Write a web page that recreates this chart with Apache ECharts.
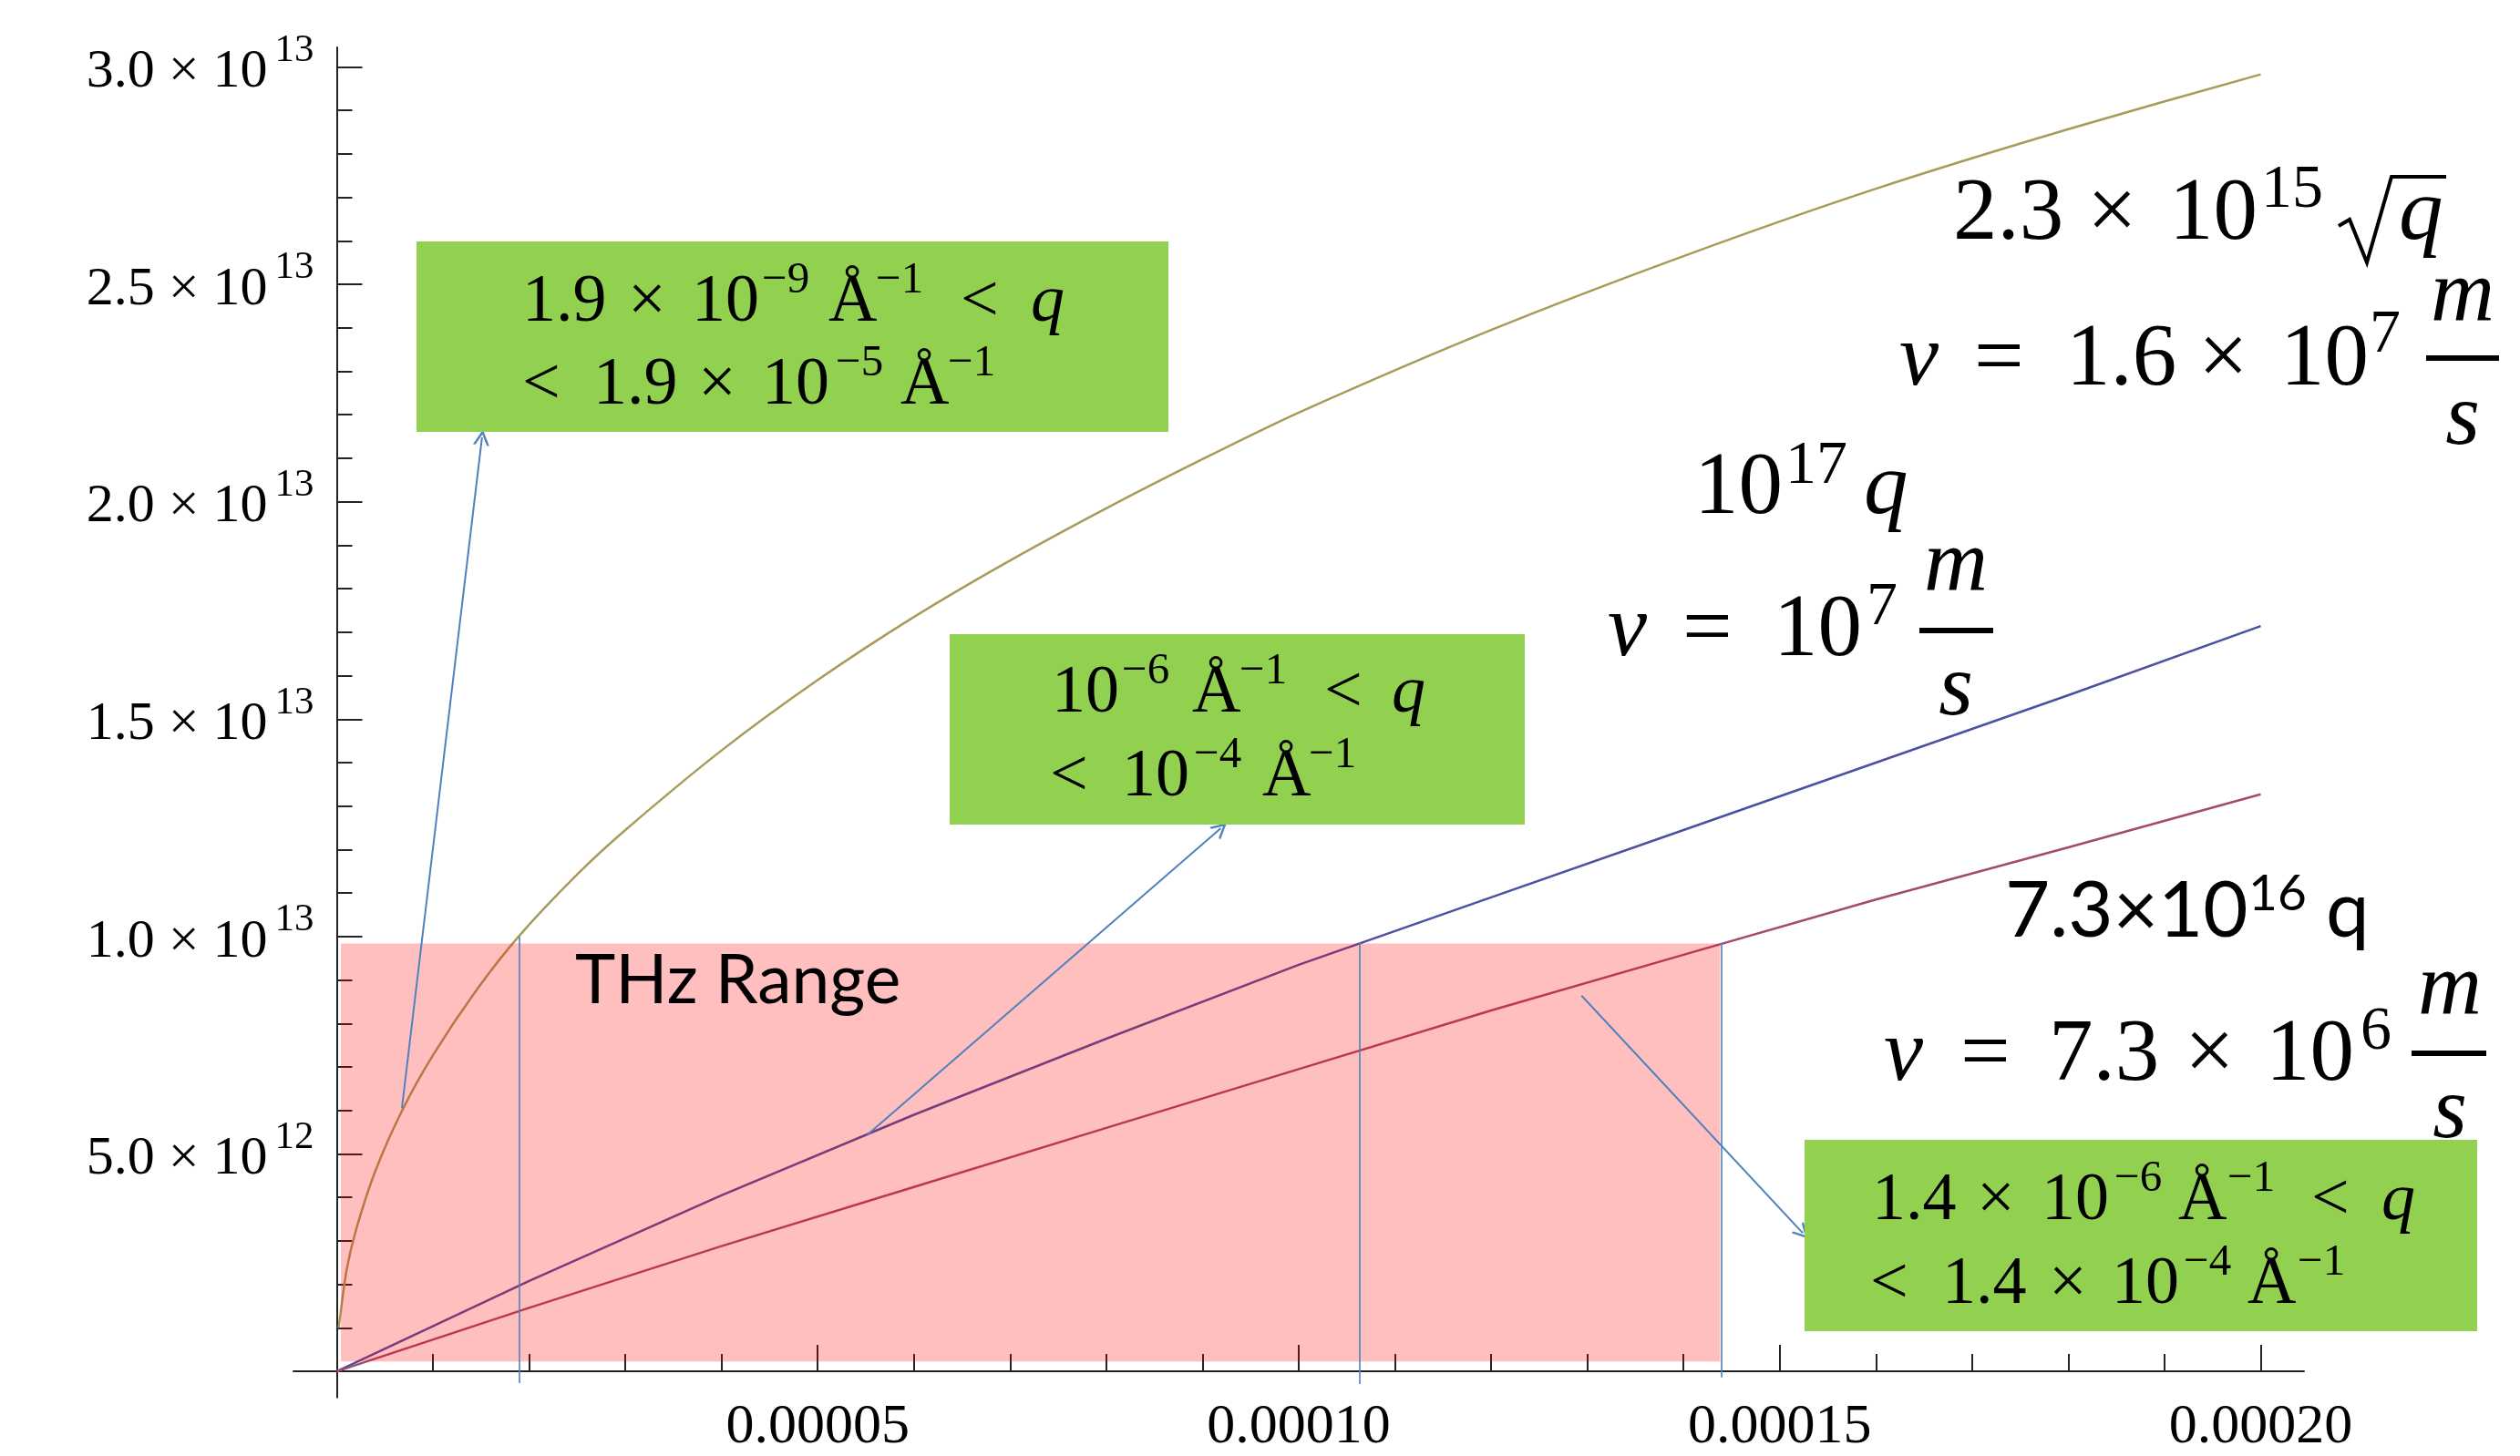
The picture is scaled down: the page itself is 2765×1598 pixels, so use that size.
<!DOCTYPE html>
<html>
<head>
<meta charset="utf-8">
<script src="https://cdn.jsdelivr.net/npm/echarts@6/dist/echarts.min.js"></script>
<style>
html,body{margin:0;padding:0;background:#ffffff;}
#chart{width:2765px;height:1598px;}
</style>
</head>
<body>
<div id="chart"></div>
<script>
// ---------------- data ----------------
const qGold = [0.0000002, 0.000001, 0.000002, 0.000004, 0.0000068, 0.00001, 0.0000145, 0.0000189, 0.000025, 0.00003, 0.00004, 0.00005, 0.00006, 0.00007, 0.00008, 0.00009, 0.0001, 0.00012, 0.00014, 0.00016, 0.00018, 0.0002];
const vGold = [1.0e12, 2.3e12, 3.25e12, 4.6e12, 6.0e12, 7.27e12, 8.76e12, 1.0e13, 1.143e13, 1.245e13, 1.428e13, 1.59e13, 1.735e13, 1.865e13, 1.985e13, 2.098e13, 2.205e13, 2.395e13, 2.565e13, 2.72e13, 2.857e13, 2.983e13];
const qLine = [0, 0.00002, 0.00004, 0.00006, 0.00008, 0.0001, 0.00012, 0.00014, 0.00016, 0.00018, 0.0002];
const vBlue = [0, 2.08e12, 4.05e12, 5.9e12, 7.65e12, 9.35e12, 1.09e13, 1.245e13, 1.40e13, 1.555e13, 1.714e13];
const vRed  = [0, 1.46e12, 2.88e12, 4.24e12, 5.6e12, 6.95e12, 8.3e12, 9.58e12, 1.085e13, 1.205e13, 1.327e13];

const xTickLabels = [0.00005, 0.0001, 0.00015, 0.0002];
const yTickLabels = [5e12, 1e13, 1.5e13, 2e13, 2.5e13, 3e13];

// THz range box (q from, q to, v from, v to)
const thzQ = [0.00000043, 0.0001438];
const thzV = [0.226e12, 9.84e12];
// vertical marker lines: q, top v, bottom v
const markerQ   = [0.00001899, 0.0001063, 0.0001439];
const markerTop = [1.0e13, 9.87e12, 9.84e12];
const markerBot = [-0.27e12, -0.29e12, -0.14e12];
// arrows: start [q,v] -> end [q,v]
const arrowFromQ = [0.00000677, 0.00005516, 0.0001294];
const arrowFromV = [6.05e12, 5.44e12, 8.64e12];
const arrowToQ   = [0.0000151, 0.0000919, 0.0001524];
const arrowToV   = [2.148e13, 1.249e13, 3.18e12];

// ---------------- axes ranges ----------------
const X_MIN = -0.0000045, X_MAX = 0.0002045;
const Y_MIN = -0.6e12, Y_MAX = 3.045e13;
const xMinor = [], yMinor = [];
for (let i = 1; i <= 20; i++) if (i % 5) xMinor.push(+(i * 0.00001).toFixed(6));
for (let i = 1; i <= 29; i++) if (i % 5) yMinor.push(i * 1e12);

const SERIF = 'Liberation Serif';
const SANS = 'Lato';
const AXIS_COLOR = '#222222';
const ANNO_BLUE = '#4f81bd';
const GREEN = '#92d050';

function fmtY(v) {
  const e = Math.floor(Math.log10(v) + 1e-9);
  const m = v / Math.pow(10, e);
  return '{m|' + m.toFixed(1) + ' \u00d7 10}{s|' + e + '}';
}

// ---------------- text helpers (annotation layout) ----------------
const mctx = document.createElement('canvas').getContext('2d');
function midOffset(font) {
  mctx.font = font;
  mctx.textBaseline = 'alphabetic';
  const a = mctx.measureText('H').actualBoundingBoxAscent;
  mctx.textBaseline = 'middle';
  const b = mctx.measureText('H').actualBoundingBoxAscent;
  return a - b;
}
function tok(x, base, text, size, italic, family, align) {
  const font = (italic ? 'italic ' : '') + size + 'px "' + (family || SERIF) + '"';
  const d = midOffset(font);
  return {
    type: 'text', x: x, y: base - d, z: 100, silent: true,
    style: { text: text, font: font, fill: '#000000', align: align || 'left', textAlign: align || 'left', verticalAlign: 'middle', textVerticalAlign: 'middle' }
  };
}
// items: [x, text, kind] kind: n normal, i italic, s superscript
function mline(base, size, supSize, supBase, items, family) {
  return items.map(function (it) {
    if (it[2] === 's') return tok(it[0], supBase, it[1], supSize, false, family);
    return tok(it[0], base, it[1], size, it[2] === 'i', family);
  });
}
function box(x, y, w, h) {
  return { type: 'rect', z: 90, silent: true, shape: { x: x, y: y, width: w, height: h }, style: { fill: GREEN } };
}
function bar(x, y, w) {
  return { type: 'rect', z: 100, silent: true, shape: { x: x, y: y, width: w, height: 6 }, style: { fill: '#000000' } };
}

const BIG = 97, BIGSUP = 68, BX = 74, BXSUP = 49;
let graphics = [];
// green boxes
graphics.push(box(457, 265, 825, 209));
graphics.push(box(1042, 696, 631, 209));
graphics.push(box(1980, 1251, 738, 210));
// box 1
graphics = graphics.concat(mline(352, BX, BXSUP, 321, [[573,'1.9','n'],[689,'\u00d7','n'],[759,'10','n'],[836,'\u22129','s'],[909,'\u00c5','n'],[961,'\u22121','s'],[1054,'<','n'],[1131,'q','i']]));
graphics = graphics.concat(mline(443, BX, BXSUP, 412, [[573,'<','n'],[651,'1.9','n'],[766,'\u00d7','n'],[836,'10','n'],[917,'\u22125','s'],[988,'\u00c5','n'],[1040,'\u22121','s']]));
// box 2
graphics = graphics.concat(mline(781, BX, BXSUP, 750, [[1154,'10','n'],[1231,'\u22126','s'],[1308,'\u00c5','n'],[1360,'\u22121','s'],[1453,'<','n'],[1527,'q','i']]));
graphics = graphics.concat(mline(873, BX, BXSUP, 842, [[1152,'<','n'],[1231,'10','n'],[1310,'\u22124','s'],[1385,'\u00c5','n'],[1436,'\u22121','s']]));
// box 3
graphics = graphics.concat(mline(1338, BX, BXSUP, 1307, [[2054,'1.4','n'],[2169,'\u00d7','n'],[2240,'10','n'],[2320,'\u22126','s'],[2390,'\u00c5','n'],[2444,'\u22121','s'],[2536,'<','n'],[2613,'q','i']]));
graphics = graphics.concat(mline(1430, BX, BXSUP, 1399, [[2052,'<','n'],[2131,'1.4','n'],[2248,'\u00d7','n'],[2317,'10','n'],[2396,'\u22124','s'],[2466,'\u00c5','n'],[2521,'\u22121','s']]));
// formula: 2.3 x 10^15 sqrt(q)
graphics = graphics.concat(mline(262, BIG, BIGSUP, 227, [[2143,'2.3','n'],[2290,'\u00d7','n'],[2380,'10','n'],[2481,'15','s'],[2632,'q','i']]));
graphics.push({ type: 'polyline', z: 100, silent: true, shape: { points: [[2566,248],[2578,241],[2597,288],[2624,194],[2684,194]] }, style: { stroke: '#000000', lineWidth: 4, fill: null } });
// v = 1.6 x 10^7 m/s
graphics = graphics.concat(mline(422, BIG, BIGSUP, 386, [[2084,'v','i'],[2166,'=','n'],[2267,'1.6','n'],[2412,'\u00d7','n'],[2502,'10','n'],[2600,'7','s']]));
graphics.push(bar(2662, 390, 80));
graphics.push(tok(2702, 351, 'm', BIG, true, SERIF, 'center'));
graphics.push(tok(2702, 487, 's', BIG, true, SERIF, 'center'));
// 10^17 q
graphics = graphics.concat(mline(563, BIG, BIGSUP, 530, [[1859,'10','n'],[1959,'17','s'],[2045,'q','i']]));
// v = 10^7 m/s
graphics = graphics.concat(mline(719, BIG, BIGSUP, 685, [[1764,'v','i'],[1846,'=','n'],[1946,'10','n'],[2048,'7','s']]));
graphics.push(bar(2106, 689, 81));
graphics.push(tok(2146, 647, 'm', BIG, true, SERIF, 'center'));
graphics.push(tok(2146, 784, 's', BIG, true, SERIF, 'center'));
// 7.3x10^16 q
graphics = graphics.concat(mline(1028, 85, 55, 999, [[2200,'7.3\u00d710','n'],[2467,'16','s'],[2552,'q','n']], SANS));
// v = 7.3 x 10^6 m/s
graphics = graphics.concat(mline(1185, BIG, BIGSUP, 1151, [[2067,'v','i'],[2151,'=','n'],[2248,'7.3','n'],[2397,'\u00d7','n'],[2486,'10','n'],[2590,'6','s']]));
graphics.push(bar(2646, 1153, 82));
graphics.push(tok(2688, 1112, 'm', BIG, true, SERIF, 'center'));
graphics.push(tok(2688, 1248, 's', BIG, true, SERIF, 'center'));
// THz Range
graphics.push(tok(631, 1101, 'THz Range', 75, false, SANS));

// ---------------- chart ----------------
const ARROW = 'path://M0,20 L10,0 L20,20 L17,20 L10,6 L3,20 Z';
const chart = echarts.init(document.getElementById('chart'), null, { renderer: 'canvas' });

const markerLines = markerQ.map(function (q, i) {
  return [{ coord: [q, markerTop[i]] }, { coord: [q, markerBot[i]] }];
});
const arrowLines = arrowFromQ.map(function (q, i) {
  return [{ coord: [q, arrowFromV[i]], symbol: 'none' }, { coord: [arrowToQ[i], arrowToV[i]], symbol: ARROW, symbolSize: [18, 17] }];
});

const option = {
  animation: false,
  backgroundColor: '#ffffff',
  grid: { left: 322, right: 237, top: 52, bottom: 61, containLabel: false },
  xAxis: [{
    type: 'value', min: X_MIN, max: X_MAX, position: 'bottom', offset: -28.7,
    axisLine: { show: true, onZero: false, lineStyle: { color: AXIS_COLOR, width: 2 } },
    axisTick: { show: true, inside: true, length: 29, customValues: xTickLabels, lineStyle: { color: AXIS_COLOR, width: 2 } },
    axisLabel: { show: true, customValues: xTickLabels, margin: 31, fontFamily: SERIF, fontSize: 62, lineHeight: 62, color: '#000000',
      formatter: function (v) { return v.toFixed(5); } },
    splitLine: { show: false }
  }, {
    type: 'value', min: X_MIN, max: X_MAX, position: 'bottom', offset: -28.7,
    axisLine: { show: false, onZero: false },
    axisTick: { show: true, inside: true, length: 19, customValues: xMinor, lineStyle: { color: AXIS_COLOR, width: 2 } },
    axisLabel: { show: false },
    splitLine: { show: false }
  }],
  yAxis: [{
    type: 'value', min: Y_MIN, max: Y_MAX, position: 'left', offset: -47.5,
    axisLine: { show: true, onZero: false, lineStyle: { color: AXIS_COLOR, width: 2 } },
    axisTick: { show: true, inside: true, length: 28, customValues: yTickLabels, lineStyle: { color: AXIS_COLOR, width: 2 } },
    axisLabel: { show: true, customValues: yTickLabels, margin: 25, padding: [12, 0, 0, 0], formatter: fmtY,
      rich: {
        m: { fontFamily: SERIF, fontSize: 60, lineHeight: 70, verticalAlign: 'middle', color: '#000000' },
        s: { fontFamily: SERIF, fontSize: 43, lineHeight: 44, padding: [0, 0, 48, 8], verticalAlign: 'middle', color: '#000000' }
      } },
    splitLine: { show: false }
  }, {
    type: 'value', min: Y_MIN, max: Y_MAX, position: 'left', offset: -47.5,
    axisLine: { show: false, onZero: false },
    axisTick: { show: true, inside: true, length: 17, customValues: yMinor, lineStyle: { color: AXIS_COLOR, width: 2 } },
    axisLabel: { show: false },
    splitLine: { show: false }
  }],
  series: [
    { name: 'sqrt', type: 'line', z: 2, showSymbol: false, smooth: 0.25, silent: true,
      lineStyle: { color: '#a89b5a', width: 2.5 }, data: qGold.map(function (q, i) { return [q, vGold[i]]; }) },
    { name: 'blue', type: 'line', z: 2, showSymbol: false, smooth: false, silent: true,
      lineStyle: { color: '#4c50a4', width: 2.5 }, data: qLine.map(function (q, i) { return [q, vBlue[i]]; }) },
    { name: 'red', type: 'line', z: 2, showSymbol: false, smooth: false, silent: true,
      lineStyle: { color: '#a44a70', width: 2.5 }, data: qLine.map(function (q, i) { return [q, vRed[i]]; }) },
    { name: 'thz', type: 'line', z: 5, data: [], silent: true,
      markArea: { silent: true, z: 5, itemStyle: { color: 'rgba(255,0,0,0.25)' }, label: { show: false },
        data: [[{ coord: [thzQ[0], thzV[0]] }, { coord: [thzQ[1], thzV[1]] }]] } },
    { name: 'markers', type: 'line', z: 6, data: [], silent: true,
      markLine: { silent: true, z: 7, symbol: ['none', 'none'], label: { show: false }, animation: false,
        lineStyle: { color: ANNO_BLUE, width: 1.6, type: 'solid' }, emphasis: { disabled: true },
        data: markerLines } },
    { name: 'arrows', type: 'line', z: 6, data: [], silent: true,
      markLine: { silent: true, z: 8, symbol: ['none', ARROW], symbolSize: [18, 17], label: { show: false }, animation: false,
        lineStyle: { color: ANNO_BLUE, width: 2, type: 'solid' }, itemStyle: { color: ANNO_BLUE }, emphasis: { disabled: true },
        data: arrowLines } }
  ],
  graphic: { elements: graphics }
};
chart.setOption(option);
</script>
</body>
</html>
